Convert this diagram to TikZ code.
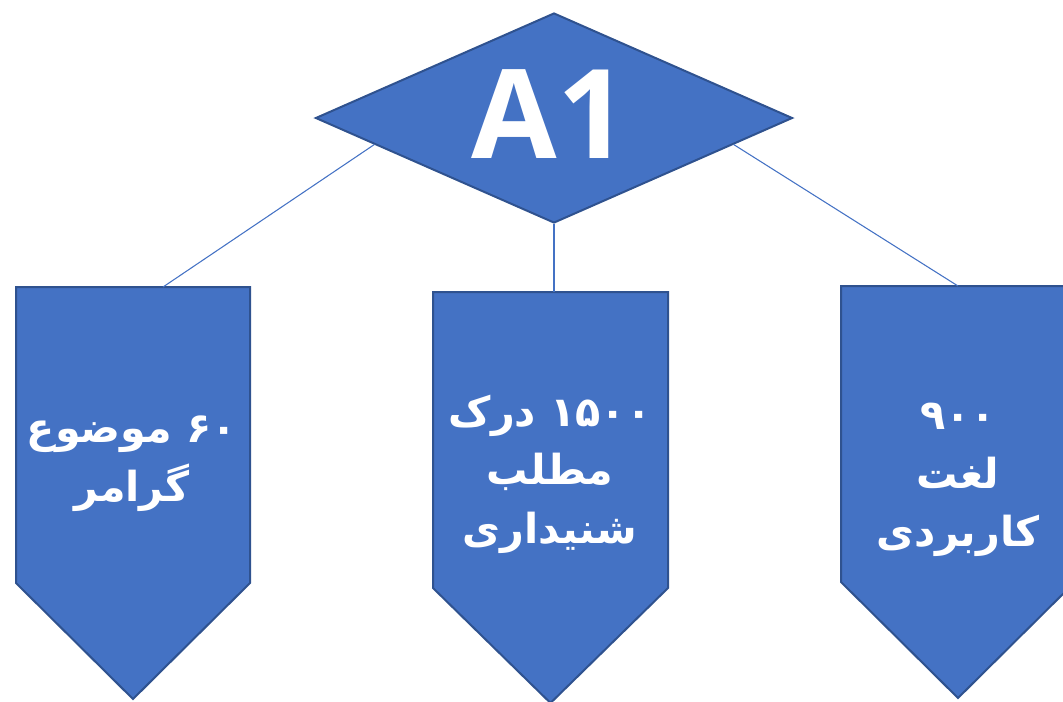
\documentclass[tikz,border=0pt]{standalone}
\usepackage{fontspec}
\usetikzlibrary{shapes.geometric,calc}
\TeXXeTstate=1
\newfontfamily\fafont[Script=Arabic]{DejaVu Sans}
\newfontfamily\afont{Open Sans}
\definecolor{mainblue}{HTML}{4472C4}
\definecolor{edgeblue}{HTML}{2F528F}
\begin{document}
\begin{tikzpicture}[x=0.75pt,y=-0.75pt,
  shapeline/.style={draw=edgeblue,fill=mainblue,line width=1.5pt,line join=miter},
  connector/.style={draw=mainblue,line width=0.8pt},
  bodybox/.style={draw=none,inner sep=0pt,outer sep=0pt,anchor=north west,minimum height=222pt},
  falabel/.style={text=white,align=center,inner sep=0pt,font=\fafont\bfseries\fontsize{31}{44}\selectfont}]
\useasboundingbox (0,0) rectangle (1063,701);
\clip (0,0) rectangle (1063,701);
% top diamond
\node[diamond,shapeline,aspect=2.27,inner sep=0pt,minimum width=357.75pt,minimum height=157.5pt] (d) at (554,118) {};
\node[text=white,inner sep=0pt,font=\afont\bfseries\fontsize{93}{93}\selectfont] (a1) at (550,114) {A1};
% boxes
\node[bodybox,minimum width=175.5pt] (b1) at (16,287) {};
\node[bodybox,minimum width=176.25pt] (b2) at (433,292) {};
\node[bodybox,minimum width=175.5pt] (b3) at (841,286) {};
\draw[shapeline] (b1.north west) -- (b1.north east) -- (b1.south east) -- ($(b1.south)+(0,116)$) -- (b1.south west) -- cycle;
\draw[shapeline] (b2.north west) -- (b2.north east) -- (b2.south east) -- ($(b2.south)+(0,115)$) -- (b2.south west) -- cycle;
\draw[shapeline] (b3.north west) -- (b3.north east) -- (b3.south east) -- ($(b3.south)+(0,116)$) -- (b3.south west) -- cycle;
% connector ends
\coordinate (d1) at ($(d.west)!0.25!(d.south)$);
\coordinate (d3) at ($(d.east)!0.25!(d.south)$);
\coordinate (t1) at ($(b1.north west)+(147,0)$);
\draw[connector] (d1) -- (t1);
\draw[connector] (d.south) -- (d.south |- b2.north);
\draw[connector] (d3) -- (b3.north);
% labels
\node[falabel] (l1) at (132,464) {\beginR\beginL ۶۰\endL{} موضوع\endR\\\beginR گرامر\endR};
\node[falabel] (l2) at (550,474) {\beginR\beginL ۱۵۰۰\endL{} درک\endR\\\beginR مطلب\endR\\\beginR شنیداری\endR};
\node[falabel] (l3) at (958,480) {\beginR\beginL ۹۰۰\endL\endR\\\beginR لغت\endR\\\beginR کاربردی\endR};
\end{tikzpicture}
\end{document}
